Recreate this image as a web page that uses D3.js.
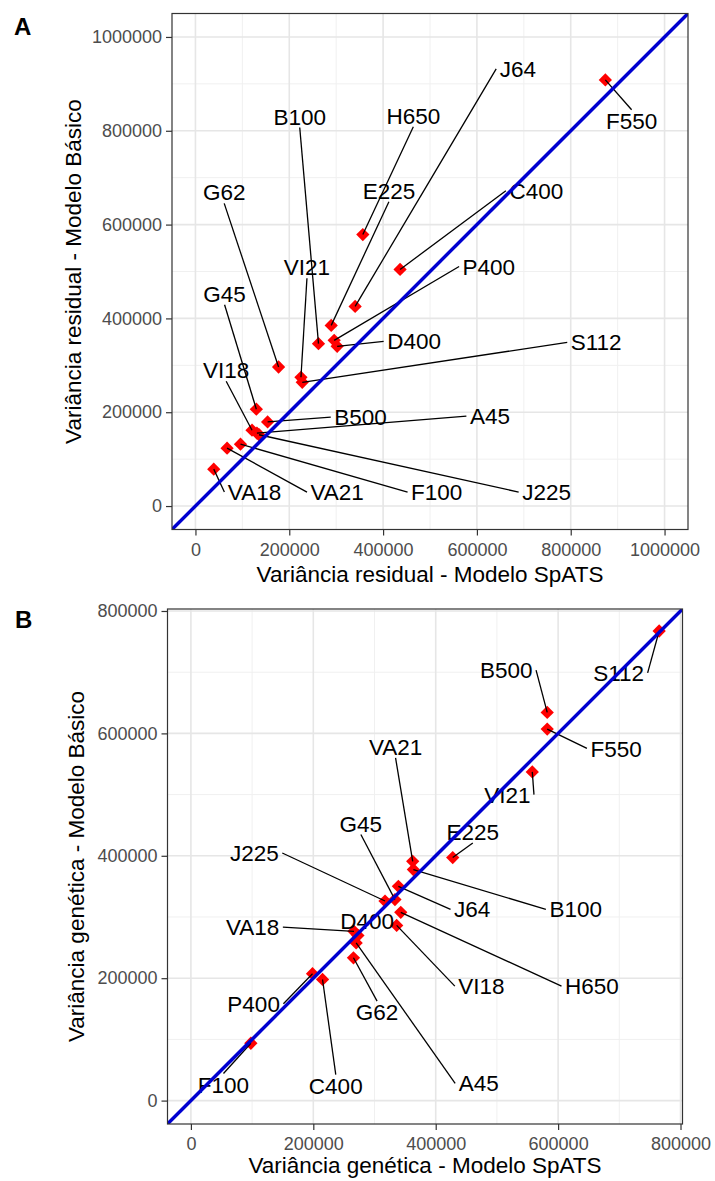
<!DOCTYPE html>
<html>
<head>
<meta charset="utf-8">
<script src="https://cdn.jsdelivr.net/npm/d3@7"></script>
<style>
  html, body { margin: 0; padding: 0; background: #fff; }
  svg { display: block; font-family: "Liberation Sans", Arial, sans-serif; }
</style>
</head>
<body>
<svg id="chart" width="715" height="1181"></svg>
<script>
// ---------------- Panel A : residual variance ----------------
const namesA  = ["F550","H650","C400","E225","J64","P400","D400","B100","VI21","S112","G62","G45","B500","VI18","A45","J225","VA18","VA21","F100"];
const spatsA  = [873800,356800,436200,289400,340400,295700,302100,262300,224900,227700,177200,129800,153800,120600,131000,135500,39000,67400,96000];
const basicoA = [908500,578700,504300,385100,425500,353200,340400,346200,274500,263800,296400,206400,179400,161700,155500,152000,78700,123400,131900];
// repelled label positions (data units)
const labelXA = [929800,464500,726600,412400,687200,625500,466000,222300,237700,854300,61300,62100,351900,65500,627700,748500,126000,302100,514300];
const labelYA = [821300,831900,672300,672300,931900,510600,351100,830400,509100,348900,668700,452600,189400,289400,191500,29800,29800,29800,29800];
const ticksA  = [0,200000,400000,600000,800000,1000000];
const minorA  = [100000,300000,500000,700000,900000];

// ---------------- Panel B : genetic variance ----------------
const namesB  = ["S112","B500","F550","VI21","E225","VA21","B100","J64","J225","G45","H650","VI18","VA18","D400","A45","G62","P400","C400","F100"];
const spatsB  = [765100,582200,582200,557800,427800,362400,363500,339000,317200,333400,342900,336200,266400,272900,270000,265600,198700,215100,97960];
const basicoB = [767300,634300,607000,537100,397100,391000,377400,350100,326100,328400,307600,286300,276600,269900,257600,233300,207300,197900,93700];
const labelXB = [699000,515300,694700,517000,460600,334400,628700,459600,103700,277700,655200,474800,100900,287800,470200,304200,102500,236700,53200];
const labelYB = [699000,703500,575400,500000,438900,578000,312500,312500,404600,452700,187000,187000,283500,293300,28300,144500,158200,24500,26200];
const ticksB  = [0,200000,400000,600000,800000];
const minorB  = [100000,300000,500000,700000];

const svg = d3.select("#chart");

function drawPanel(cfg) {
  const x = d3.scaleLinear().domain(cfg.domain).range([cfg.left, cfg.left + cfg.size]);
  const y = d3.scaleLinear().domain(cfg.domain).range([cfg.top + cfg.size, cfg.top]);
  const g = svg.append("g");

  g.append("rect").attr("x", cfg.left).attr("y", cfg.top)
    .attr("width", cfg.size).attr("height", cfg.size).attr("fill", "#fff");

  // minor grid
  const grid = g.append("g");
  cfg.minor.forEach(v => {
    grid.append("line").attr("x1", x(v)).attr("x2", x(v)).attr("y1", cfg.top).attr("y2", cfg.top + cfg.size)
      .attr("stroke", "#f0f0f0").attr("stroke-width", 1);
    grid.append("line").attr("y1", y(v)).attr("y2", y(v)).attr("x1", cfg.left).attr("x2", cfg.left + cfg.size)
      .attr("stroke", "#f0f0f0").attr("stroke-width", 1);
  });
  // major grid
  cfg.ticks.forEach(v => {
    grid.append("line").attr("x1", x(v)).attr("x2", x(v)).attr("y1", cfg.top).attr("y2", cfg.top + cfg.size)
      .attr("stroke", "#e6e6e6").attr("stroke-width", 1.6);
    grid.append("line").attr("y1", y(v)).attr("y2", y(v)).attr("x1", cfg.left).attr("x2", cfg.left + cfg.size)
      .attr("stroke", "#e6e6e6").attr("stroke-width", 1.6);
  });

  // axes
  const xAxis = d3.axisBottom(x).tickValues(cfg.ticks).tickFormat(d3.format("d")).tickSize(6).tickPadding(4);
  const yAxis = d3.axisLeft(y).tickValues(cfg.ticks).tickFormat(d3.format("d")).tickSize(6).tickPadding(4);
  const gx = g.append("g").attr("transform", `translate(0,${cfg.top + cfg.size})`).call(xAxis);
  const gy = g.append("g").attr("transform", `translate(${cfg.left},0)`).call(yAxis);
  [gx, gy].forEach(a => {
    a.select(".domain").remove();
    a.selectAll(".tick line").attr("stroke", "#333").attr("stroke-width", 1.2);
    a.selectAll(".tick text").attr("fill", "#4d4d4d").style("font-size", "18px")
      .style("font-family", '"Liberation Sans", Arial, sans-serif');
  });
  gx.selectAll(".tick text").attr("dy", "0.9em");

  // points
  const clip = "clip" + cfg.id;
  svg.append("clipPath").attr("id", clip).append("rect")
    .attr("x", cfg.left).attr("y", cfg.top).attr("width", cfg.size).attr("height", cfg.size);
  const plot = g.append("g").attr("clip-path", `url(#${clip})`);
  const diamond = d3.symbol().type(d3.symbolSquare).size(88);
  plot.selectAll("path.pt").data(cfg.names).enter().append("path")
    .attr("class", "pt")
    .attr("d", diamond)
    .attr("transform", (d, i) => `translate(${x(cfg.xs[i])},${y(cfg.ys[i])}) rotate(45)`)
    .attr("fill", "#ff0000");

  // labels (repelled) + segments
  const fs = 22.5;
  const segG = plot.append("g");
  const txtG = plot.append("g");
  cfg.names.forEach((n, i) => {
    const cx = x(cfg.lx[i]), cy = y(cfg.ly[i]);
    const t = txtG.append("text").attr("x", cx).attr("y", cy).attr("dy", "0.36em")
      .attr("text-anchor", "middle").attr("fill", "#000")
      .style("font-size", fs + "px").text(n);
    const w = t.node().getComputedTextLength();
    const hw = w / 2 + 3.5, hh = 11;
    const px = x(cfg.xs[i]), py = y(cfg.ys[i]);
    const cands = [[cx - hw, cy], [cx + hw, cy], [cx, cy - hh], [cx, cy + hh]];
    let best = cands[0], bd = Infinity;
    cands.forEach(c => {
      const dd = Math.hypot(c[0] - px, c[1] - py);
      if (dd < bd) { bd = dd; best = c; }
    });
    if (bd > 12) {
      segG.append("line").attr("x1", px).attr("y1", py).attr("x2", best[0]).attr("y2", best[1])
        .attr("stroke", "#000").attr("stroke-width", 1.3);
    }
  });

  // identity line y = x
  plot.append("line")
    .attr("x1", x(cfg.domain[0])).attr("y1", y(cfg.domain[0]))
    .attr("x2", x(cfg.domain[1])).attr("y2", y(cfg.domain[1]))
    .attr("stroke", "#0000d0").attr("stroke-width", 3.4);

  // panel border
  g.append("rect").attr("x", cfg.left).attr("y", cfg.top)
    .attr("width", cfg.size).attr("height", cfg.size)
    .attr("fill", "none").attr("stroke", "#333").attr("stroke-width", 1.2);

  // axis titles
  g.append("text").attr("x", cfg.left + cfg.size / 2).attr("y", cfg.xTitleY)
    .attr("text-anchor", "middle").attr("fill", "#000").style("font-size", "22.5px").text(cfg.xTitle);
  g.append("text").attr("transform", `translate(${cfg.yTitleX},${cfg.top + cfg.size / 2}) rotate(-90)`)
    .attr("text-anchor", "middle").attr("fill", "#000").style("font-size", "22.5px").text(cfg.yTitle);

  // panel tag
  g.append("text").attr("x", cfg.tagX).attr("y", cfg.tagY)
    .attr("fill", "#000").style("font-size", "24px").style("font-weight", "bold").text(cfg.tag);
}

drawPanel({
  id: "A", tag: "A", tagX: 14, tagY: 35,
  left: 172, top: 13.5, size: 516, domain: [-50000, 1050000],
  ticks: ticksA, minor: minorA,
  names: namesA, xs: spatsA, ys: basicoA, lx: labelXA, ly: labelYA,
  xTitle: "Variância residual - Modelo SpATS", xTitleY: 582,
  yTitle: "Variância residual - Modelo Básico", yTitleX: 81
});

drawPanel({
  id: "B", tag: "B", tagX: 15, tagY: 628,
  left: 167.5, top: 609, size: 515, domain: [-38250, 803250],
  ticks: ticksB, minor: minorB,
  names: namesB, xs: spatsB, ys: basicoB, lx: labelXB, ly: labelYB,
  xTitle: "Variância genética - Modelo SpATS", xTitleY: 1173,
  yTitle: "Variância genética - Modelo Básico", yTitleX: 84
});
</script>
</body>
</html>
